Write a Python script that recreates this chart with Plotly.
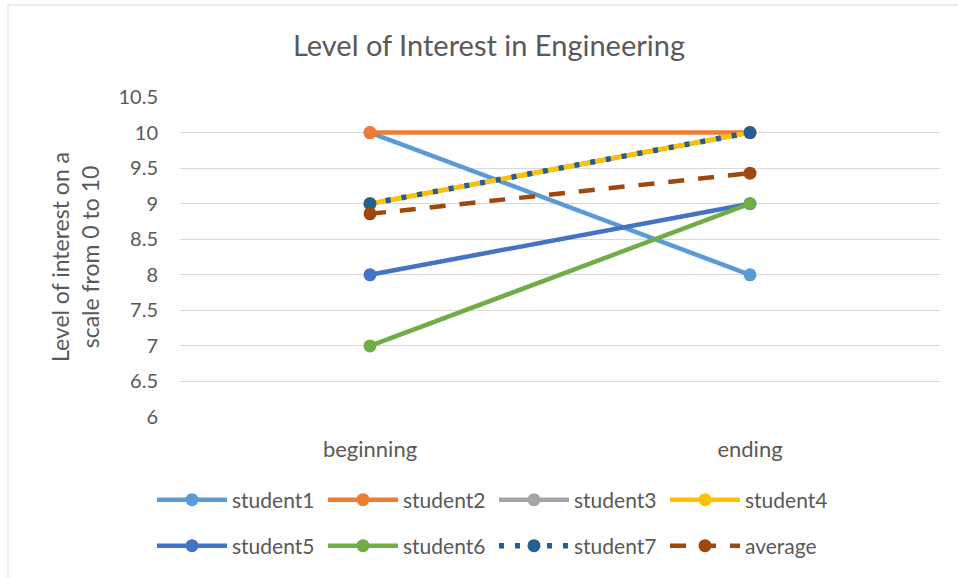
import plotly.graph_objects as go

categories = ["beginning", "ending"]
series_names = ["student1", "student2", "student3", "student4",
                "student5", "student6", "student7", "average"]
student1 = [10, 8]
student2 = [10, 10]
student3 = [9, 10]
student4 = [9, 10]
student5 = [8, 9]
student6 = [7, 9]
student7 = [9, 10]
average = [62 / 7, 66 / 7]
y_ticks = [6, 6.5, 7, 7.5, 8, 8.5, 9, 9.5, 10, 10.5]
y_tick_labels = ["6", "6.5", "7", "7.5", "8", "8.5", "9", "9.5", "10", "10.5"]

values = [student1, student2, student3, student4, student5, student6, student7, average]
colors = ["#5B9BD5", "#ED7D31", "#A5A5A5", "#FFC000", "#4472C4", "#70AD47", "#255E91", "#9E480E"]
dashes = ["solid"] * 6 + ["5px,11px", "16px,14px"]
widths = [4.5] * 6 + [5.5, 4.5]

FONT = "Lato, 'Open Sans', sans-serif"
GREY = "#595959"

fig = go.Figure()
for i, (name, vals) in enumerate(zip(series_names, values)):
    fig.add_trace(go.Scatter(
        x=categories, y=vals, name=name, mode="lines+markers",
        line=dict(color=colors[i], width=widths[i], dash=dashes[i]),
        marker=dict(color=colors[i], size=13),
        legend="legend" if i < 4 else "legend2",
    ))

W, H = 958, 578
L, R, T, B = 180, 18, 97, 161
pw, ph = W - L - R, H - T - B

def px_x(x):
    return (x - L) / pw

def px_y(y):
    return (H - B - y) / ph

legend_common = dict(
    orientation="h", xanchor="left", yanchor="middle",
    font=dict(family=FONT, size=21, color=GREY),
    itemwidth=70,
    entrywidth=86, entrywidthmode="pixels",
    bgcolor="rgba(0,0,0,0)", itemsizing="trace",
)

fig.update_layout(
    width=W, height=H,
    margin=dict(l=L, r=R, t=T, b=B),
    paper_bgcolor="white", plot_bgcolor="white",
    title=dict(text="Level of Interest in Engineering", x=489 / W, xanchor="center",
               y=1 - 46 / H, yanchor="middle",
               font=dict(family=FONT, size=29, color=GREY)),
    legend=dict(x=px_x(152), y=px_y(500), **legend_common),
    legend2=dict(x=px_x(152), y=px_y(546), **legend_common),
    xaxis=dict(type="category", range=[-0.5, 1.5], showgrid=False, showline=False,
               zeroline=False, ticks="", ticklabelstandoff=17,
               tickfont=dict(family=FONT, size=22, color=GREY)),
    yaxis=dict(range=[6, 10.5], tickvals=y_ticks, ticktext=y_tick_labels,
               showgrid=True, gridcolor="#D9D9D9", gridwidth=1, zeroline=False,
               showline=False, ticks="", ticklabelstandoff=21,
               tickfont=dict(family=FONT, size=20, color=GREY)),
    annotations=[dict(text="Level of interest on a<br>scale from 0 to 10",
                      xref="paper", yref="paper", x=px_x(75), y=0.5,
                      xanchor="center", yanchor="middle", textangle=-90,
                      showarrow=False,
                      font=dict(family=FONT, size=23, color=GREY))],
    shapes=[dict(type="rect", xref="paper", yref="paper",
                 x0=px_x(8), x1=px_x(1000), y0=px_y(700), y1=px_y(5),
                 line=dict(color="#D9D9D9", width=1), layer="below")],
)

fig.write_html("out.html", config={"displayModeBar": False},
               post_script="document.body.style.margin='0';")
